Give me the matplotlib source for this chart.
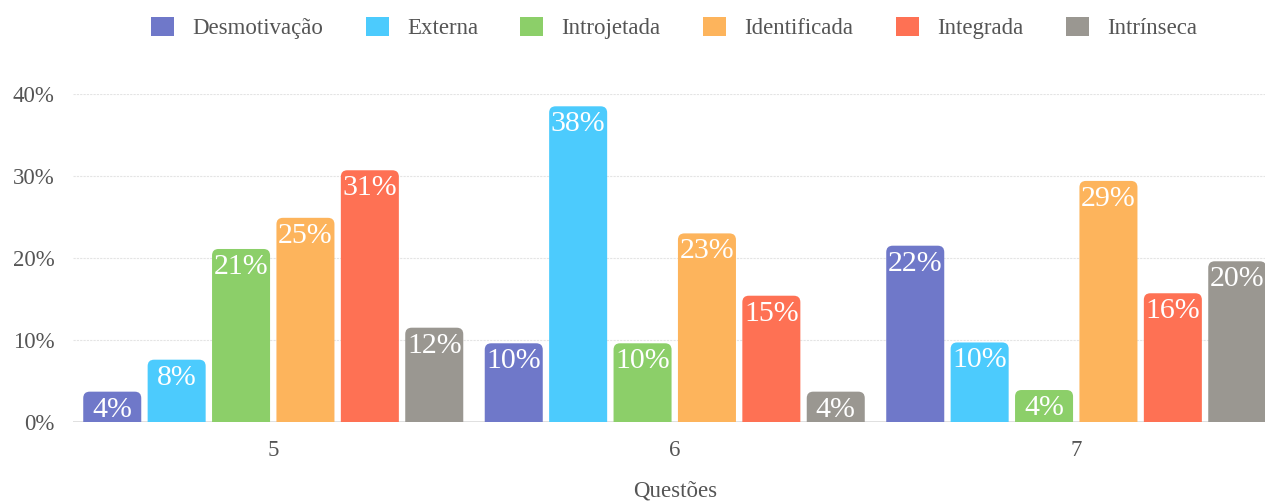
import matplotlib
matplotlib.use("Agg")
import matplotlib.pyplot as plt
from matplotlib.patches import FancyBboxPatch, Patch
import numpy as np

plt.rcParams["font.family"] = ["Liberation Serif", "DejaVu Serif"]

questoes = ["5", "6", "7"]
categorias = ["Desmotivação", "Externa", "Introjetada", "Identificada", "Integrada", "Intrínseca"]
desmotivacao = [3.7, 9.6, 21.5]
externa = [7.6, 38.5, 9.7]
introjetada = [21.1, 9.6, 3.9]
identificada = [24.9, 23.0, 29.4]
integrada = [30.7, 15.4, 15.7]
intrinseca = [11.5, 3.7, 19.6]
cores = ["#6f78c9", "#4ccbfd", "#8ccf69", "#fdb45c", "#fe7154", "#9a9791"]

series = [desmotivacao, externa, introjetada, identificada, integrada, intrinseca]

W, H = 1265, 501
fig = plt.figure(figsize=(W / 100, H / 100), dpi=100)
ax_left, ax_right, ax_bottom, ax_top = 72.5, 1277, 422, 94
ax = fig.add_axes([ax_left / W, (H - ax_bottom) / H,
                   (ax_right - ax_left) / W, (ax_bottom - ax_top) / H])
ax.set_xlim(-0.5, 2.5)
ax.set_ylim(0, 40)

# pixels per data unit, for rounded corners
px_x = (ax_right - ax_left) / 3
px_y = (ax_bottom - ax_top) / 40
radius_px = 6.5
rx = radius_px / px_x
ry = radius_px / px_y

pitch = 0.1604
width = 0.1445
x = np.arange(len(questoes))
texto = "#555555"

for i, (vals, cor) in enumerate(zip(series, cores)):
    offset = (i - 2.5) * pitch
    for xi, v in zip(x, vals):
        x0 = xi + offset - width / 2
        patch = FancyBboxPatch((x0, -ry), width, v + ry,
                               boxstyle=f"round,pad=0,rounding_size={rx}",
                               mutation_aspect=ry / rx,
                               facecolor=cor, edgecolor="none", zorder=3)
        ax.add_patch(patch)
        ax.annotate(f"{v:.0f}%", (xi + offset, v), xytext=(0, -3.5),
                    textcoords="offset points", ha="center", va="top",
                    color="white", fontsize=21.5, zorder=4)

ax.set_yticks([0, 10, 20, 30, 40])
ax.set_yticklabels([f"{t}%" for t in [0, 10, 20, 30, 40]])
ax.set_xticks(x)
ax.set_xticklabels(questoes)
ax.tick_params(axis="y", length=0, pad=13, labelsize=16.5, labelcolor=texto)
ax.tick_params(axis="x", length=0, pad=13, labelsize=16.5, labelcolor=texto)
ax.set_xlabel("Questões", fontsize=16.5, color=texto, labelpad=14)

for t in [10, 20, 30, 40]:
    ax.axhline(t, color="#e4e4e4", linewidth=0.8, linestyle=(0, (2, 1)), zorder=1)
ax.axhline(0, color="#dddddd", linewidth=1.3, zorder=2)
for s in ax.spines.values():
    s.set_visible(False)

handles = [Patch(facecolor=c, edgecolor="none") for c in cores]
fig.legend(handles, categorias, loc="center", ncol=6,
           bbox_to_anchor=(674 / W, 1 - 28 / H), frameon=False,
           fontsize=16.5, labelcolor=texto, handlelength=1.0, handleheight=0.95,
           handletextpad=0.8, columnspacing=1.85)

fig.savefig("out.png", dpi=100)
